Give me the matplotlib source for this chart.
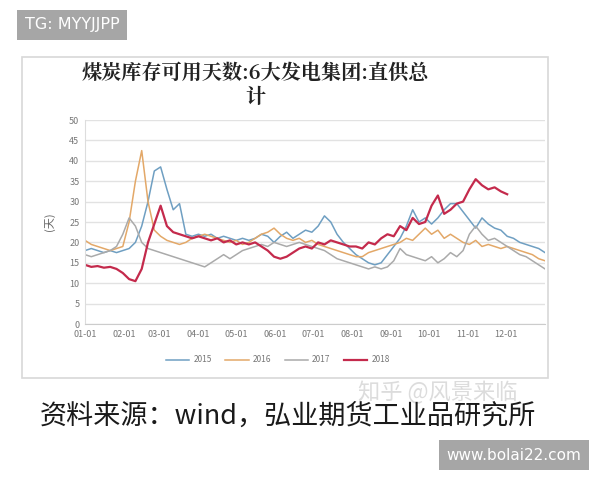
import numpy as np
import matplotlib
matplotlib.use("Agg")
import matplotlib.pyplot as plt
from matplotlib.patches import Rectangle

plt.rcParams['font.family'] = ['Noto Sans CJK SC', 'DejaVu Sans']

days = np.arange(0, 366, 5)

v2015 = [18, 18.5, 18, 17.5, 18, 17.5, 18, 18.5, 20, 24, 30, 37.5, 38.5, 33, 28, 29.5,
         22, 21.5, 22, 21.5, 22, 21, 21.5, 21, 20.5, 21, 20.5, 21, 22, 21.5, 20, 21.5,
         22.5, 21, 22, 23, 22.5, 24, 26.5, 25, 22, 20, 18.5, 17, 16, 15, 14.5, 15,
         17, 19, 21, 24, 28, 25, 26, 24.5, 26, 28, 29.5, 29.5, 27.5, 25.5, 23.5, 26,
         24.5, 23.5, 23, 21.5, 21, 20, 19.5, 19, 18.5, 17.5]
v2016 = [20.5, 19.5, 19, 18.5, 18, 18.5, 19, 25, 35, 42.5, 30, 23, 21.5, 20.5, 20, 19.5,
         20, 21, 21.5, 22, 21.5, 21, 20.5, 20, 20.5, 19.5, 20, 21, 22, 22.5, 23.5, 22,
         21, 20.5, 21, 20, 20.5, 19.5, 19, 18.5, 18, 17.5, 17, 16.5, 16.5, 17.5, 18, 18.5,
         19, 19.5, 20, 21, 20.5, 22, 23.5, 22, 23, 21, 22, 21, 20, 19.5, 20.5, 19,
         19.5, 19, 18.5, 19, 18.5, 18, 17.5, 17, 16, 15.5]
v2017 = [17, 16.5, 17, 17.5, 18, 19, 22, 26, 24, 20, 18.5, 18, 17.5, 17, 16.5, 16,
         15.5, 15, 14.5, 14, 15, 16, 17, 16, 17, 18, 18.5, 19, 19.5, 19, 20, 19.5,
         19, 19.5, 20, 19.5, 19, 18.5, 18, 17, 16, 15.5, 15, 14.5, 14, 13.5, 14, 13.5,
         14, 15.5, 18.5, 17, 16.5, 16, 15.5, 16.5, 15, 16, 17.5, 16.5, 18, 22, 24, 22,
         20.5, 21, 20, 19, 18, 17, 16.5, 15.5, 14.5, 13.5]
v2018 = [14.5, 14, 14.2, 13.8, 14, 13.5, 12.5, 11, 10.5, 13.5, 20, 24.5, 29, 24, 22.5, 22,
         21.5, 21, 21.5, 21, 20.5, 21, 20, 20.5, 19.5, 20, 19.5, 20, 19, 18, 16.5, 16,
         16.5, 17.5, 18.5, 19, 18.5, 20, 19.5, 20.5, 20, 19.5, 19, 19, 18.5, 20, 19.5, 21,
         22, 21.5, 24, 23, 26, 24.5, 25, 29, 31.5, 27, 28, 29.5, 30, 33, 35.5, 34,
         33, 33.5, 32.5, 31.8] + [np.nan] * 6

series = [("2015", v2015, "#6f9fc2", 1.1),
          ("2016", v2016, "#e3a868", 1.1),
          ("2017", v2017, "#aaaaaa", 1.1),
          ("2018", v2018, "#c42a4c", 1.6)]

tick_days = [0, 31, 59, 90, 120, 151, 181, 212, 243, 273, 304, 334]
tick_labels = ["01-01", "02-01", "03-01", "04-01", "05-01", "06-01",
               "07-01", "08-01", "09-01", "10-01", "11-01", "12-01"]

fig = plt.figure(figsize=(6, 4.8), dpi=100)
fig.patch.set_facecolor("white")

# chart frame
fig.patches.append(Rectangle((22/600, 1-378/480), 526/600, 321/480, transform=fig.transFigure,
                             fill=False, edgecolor="#d8d8d8", linewidth=1.2))

ax = fig.add_axes([85/600, 1-324/480, 460/600, 204/480])
for name, vals, col, lw in series:
    ax.plot(days, vals, color=col, lw=lw, label=name)

ax.set_xlim(0, 365)
ax.set_ylim(0, 50)
ax.set_yticks(np.arange(0, 51, 5))
ax.set_xticks(tick_days)
ax.set_xticklabels(tick_labels)
ax.tick_params(axis='both', labelsize=6.5, colors="#777777", length=0, pad=4)
ax.grid(axis='y', color="#e2e2e2", lw=1)
ax.set_axisbelow(True)
for s in ["top", "right"]:
    ax.spines[s].set_visible(False)
ax.spines["left"].set_color("#dddddd")
ax.spines["bottom"].set_color("#cccccc")
ax.set_ylabel("(天)", fontsize=8, color="#666666", labelpad=10)

leg = fig.legend(loc="center", bbox_to_anchor=(278/600, 1-360/480), ncol=4, frameon=False,
                 fontsize=6, handlelength=2.8, columnspacing=1.6, handletextpad=0.5,
                 labelcolor="#777777")

title_fam = ['Noto Serif CJK SC', 'Noto Sans CJK SC']
fig.text(255/600, 1-73/480, "煤炭库存可用天数:6大发电集团:直供总", ha="center", va="center",
         fontsize=14.5, fontweight="bold", color="#222222", family=title_fam)
fig.text(255/600, 1-97/480, "计", ha="center", va="center",
         fontsize=14.5, fontweight="bold", color="#222222", family=title_fam)

fig.text(358/600, 1-393/480, "知乎 @风景来临", ha="left", va="center", fontsize=16,
         color="#dcdcdc")
fig.text(40/600, 1-416/480, "资料来源：wind，弘业期货工业品研究所", ha="left", va="center",
         fontsize=19.5, fontweight="medium", color="#1a1a1a")

fig.text(72/600, 1-25/480, "TG: MYYJJPP", ha="center", va="center", fontsize=11.5, color="white",
         family="DejaVu Sans",
         bbox=dict(boxstyle="square,pad=0.5", fc="#a6a6a6", ec="none"))
fig.text(514/600, 1-455/480, "www.bolai22.com", ha="center", va="center", fontsize=11, color="white",
         family="DejaVu Sans",
         bbox=dict(boxstyle="square,pad=0.5", fc="#a6a6a6", ec="none"))

fig.savefig("out.png", dpi=100)
